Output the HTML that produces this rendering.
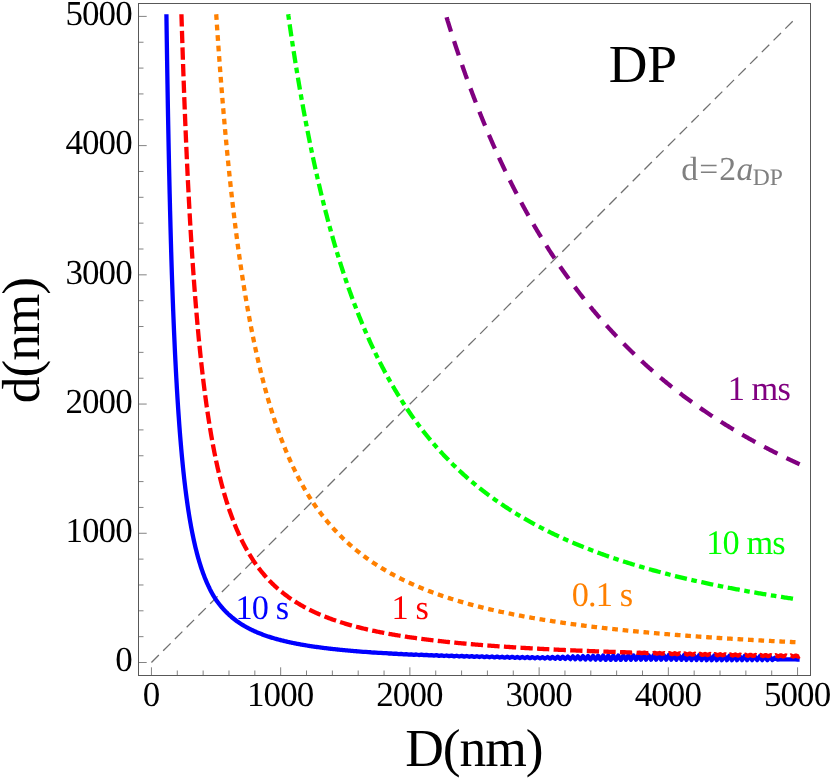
<!DOCTYPE html>
<html><head><meta charset="utf-8"><title>DP</title>
<style>
html,body{margin:0;padding:0;background:#fff;}
body{width:830px;height:779px;overflow:hidden;}
svg{display:block;will-change:transform;}
text{font-family:"Liberation Serif",serif;text-rendering:geometricPrecision;}
</style></head><body>
<svg width="830" height="779" viewBox="0 0 830 779">
<rect width="830" height="779" fill="#fff"/>
<path d="M151.45 662.50 L795.61 18.34" stroke="#707070" stroke-width="1.3" stroke-dasharray="10.5 6.1" fill="none"/>
<path d="M166.41 14.25 L166.43 15.41 L166.47 17.90 L166.51 21.36 L166.57 25.55 L166.64 30.37 L166.72 35.74 L166.81 41.59 L166.91 47.87 L167.01 54.53 L167.12 61.51 L167.23 68.79 L167.36 76.33 L167.49 84.09 L167.62 92.05 L167.76 100.16 L167.91 108.42 L168.06 116.78 L168.22 125.24 L168.39 133.76 L168.55 142.33 L168.73 150.94 L168.91 159.56 L169.09 168.17 L169.28 176.78 L169.47 185.35 L169.67 193.88 L169.88 202.37 L170.08 210.79 L170.30 219.15 L170.51 227.42 L170.73 235.62 L170.96 243.72 L171.19 251.72 L171.42 259.63 L171.66 267.43 L171.90 275.07 L172.15 282.33 L172.40 289.47 L172.65 296.51 L172.91 303.44 L173.17 310.26 L173.44 316.97 L173.71 323.56 L173.98 330.04 L174.26 336.41 L174.54 342.66 L174.82 348.79 L175.11 354.81 L175.40 360.72 L175.70 366.51 L175.99 372.19 L176.30 377.76 L176.60 383.22 L176.91 388.57 L177.23 393.82 L177.54 398.95 L177.86 403.98 L178.18 408.91 L178.51 413.73 L178.84 418.46 L179.17 423.08 L179.51 427.61 L179.85 432.04 L180.19 436.38 L180.54 440.62 L180.89 444.78 L181.24 448.84 L181.60 452.82 L181.95 456.71 L182.32 460.52 L182.68 464.25 L183.05 467.90 L183.42 471.46 L183.80 474.95 L184.17 478.37 L184.55 481.71 L184.94 484.98 L185.32 488.17 L185.71 491.30 L186.11 494.36 L186.50 497.36 L186.90 500.29 L187.30 503.16 L187.70 505.96 L188.11 508.71 L188.52 511.39 L188.93 514.02 L189.35 516.60 L189.77 519.11 L190.19 521.58 L190.61 523.99 L191.04 526.35 L191.47 528.66 L191.90 530.92 L192.34 533.14 L192.78 535.30 L193.22 537.42 L193.66 539.50 L194.11 541.54 L194.56 543.53 L195.01 545.48 L195.46 547.39 L195.92 549.26 L196.38 551.09 L196.84 552.89 L197.31 554.65 L197.77 556.37 L198.24 558.06 L198.72 559.71 L199.19 561.33 L199.67 562.92 L200.15 564.47 L200.63 566.00 L201.12 567.49 L201.61 568.95 L202.10 570.39 L202.59 571.80 L203.09 573.17 L203.59 574.53 L204.09 575.85 L204.59 577.15 L205.10 578.43 L205.61 579.68 L206.12 580.90 L206.63 582.11 L207.15 583.29 L207.67 584.44 L208.19 585.58 L208.71 586.69 L209.24 587.78 L209.76 588.86 L210.30 589.91 L210.83 590.94 L211.36 591.95 L211.90 592.95 L212.44 593.93 L212.99 594.88 L213.53 595.82 L214.08 596.75 L214.63 597.65 L215.18 598.55 L215.73 599.37 L216.29 600.18 L216.85 600.97 L217.41 601.75 L217.98 602.51 L218.54 603.26 L219.11 604.00 L219.68 604.73 L220.26 605.44 L220.83 606.14 L221.41 606.83 L221.99 607.51 L222.57 608.18 L223.16 608.84 L223.74 609.48 L224.33 610.12 L224.92 610.75 L225.52 611.36 L226.11 611.97 L226.71 612.56 L227.31 613.15 L227.91 613.73 L228.52 614.29 L229.13 614.85 L229.73 615.40 L230.35 615.95 L230.96 616.48 L231.58 617.00 L232.19 617.52 L232.81 618.03 L233.44 618.53 L234.06 619.02 L234.69 619.51 L235.32 619.99 L235.95 620.46 L236.58 620.92 L237.22 621.38 L237.85 621.83 L238.49 622.27 L239.13 622.71 L239.78 623.14 L240.42 623.57 L241.07 623.98 L241.72 624.40 L242.38 624.80 L243.03 625.20 L243.69 625.59 L244.35 625.98 L245.01 626.37 L245.67 626.74 L246.33 627.12 L247.00 627.48 L247.67 627.84 L248.34 628.20 L249.01 628.55 L249.69 628.90 L250.37 629.24 L251.05 629.58 L251.73 629.91 L252.41 630.24 L253.10 630.56 L253.79 630.88 L254.48 631.19 L255.17 631.50 L255.86 631.81 L256.56 632.11 L257.25 632.41 L257.95 632.70 L258.66 632.99 L259.36 633.28 L260.07 633.56 L260.77 633.84 L261.48 634.11 L262.19 634.38 L262.91 634.65 L263.62 634.91 L264.34 635.17 L265.06 635.43 L265.78 635.68 L266.51 635.93 L267.23 636.18 L267.96 636.42 L268.69 636.67 L269.42 636.90 L270.16 637.14 L270.89 637.37 L271.63 637.60 L272.37 637.82 L273.11 638.05 L273.85 638.27 L274.60 638.49 L275.34 638.70 L276.09 638.91 L276.84 639.12 L277.60 639.33 L278.35 639.53 L279.11 639.74 L279.87 639.94 L280.63 640.13 L281.39 640.33 L282.15 640.52 L282.92 640.71 L283.69 640.90 L284.46 641.08 L285.23 641.27 L286.00 641.45 L286.78 641.63 L287.56 641.81 L288.34 641.98 L289.12 642.15 L289.90 642.32 L290.69 642.49 L291.47 642.66 L292.26 642.83 L293.05 642.99 L293.84 643.15 L294.64 643.31 L295.43 643.47 L296.23 643.62 L297.03 643.78 L297.83 643.93 L298.64 644.08 L299.44 644.23 L300.25 644.38 L301.06 644.52 L301.87 644.66 L302.68 644.81 L303.50 644.95 L304.31 645.09 L305.13 645.22 L305.95 645.36 L306.77 645.50 L307.60 645.63 L308.42 645.76 L309.25 645.89 L310.08 646.02 L310.91 646.15 L311.74 646.27 L312.58 646.40 L313.41 646.52 L314.25 646.64 L315.09 646.76 L315.93 646.88 L316.77 647.00 L317.62 647.12 L318.47 647.23 L319.31 647.35 L320.16 647.46 L321.02 647.58 L321.87 647.69 L322.73 647.80 L323.58 647.90 L324.44 648.01 L325.30 648.12 L326.17 648.22 L327.03 648.33 L327.90 648.43 L328.77 648.53 L329.63 648.64 L330.51 648.74 L331.38 648.83 L332.25 648.93 L333.13 649.03 L334.01 649.13 L334.89 649.22 L335.77 649.32 L336.65 649.41 L337.54 649.50 L338.43 649.59 L339.32 649.68 L340.21 649.77 L341.10 649.86 L341.99 649.95 L342.89 650.04 L343.78 650.12 L344.68 650.21 L345.58 650.30 L346.49 650.38 L347.39 650.46 L348.30 650.55 L349.20 650.63 L350.11 650.71 L351.02 650.79 L351.94 650.87 L352.85 650.95 L353.77 651.03 L354.68 651.10 L355.60 651.18 L356.52 651.26 L357.45 651.33 L358.20 651.39 L360.73 651.58 L363.25 651.79 L365.78 651.93 L368.30 652.17 L370.83 652.27 L373.35 652.52 L375.88 652.58 L378.40 652.86 L380.93 652.87 L383.45 653.18 L385.98 653.15 L388.50 653.48 L391.03 653.41 L393.55 653.77 L396.08 653.65 L398.60 654.04 L401.13 653.89 L403.65 654.30 L406.18 654.11 L408.70 654.55 L411.23 654.31 L413.75 654.78 L416.28 654.51 L418.80 655.01 L421.33 654.70 L423.85 655.22 L426.38 654.87 L428.90 655.43 L431.43 655.04 L433.95 655.62 L436.48 655.20 L439.00 655.81 L441.53 655.35 L444.05 655.99 L446.58 655.49 L449.10 656.16 L451.63 655.63 L454.15 656.33 L456.68 655.75 L459.20 656.49 L461.73 655.88 L464.25 656.64 L466.78 655.99 L469.30 656.79 L471.83 656.10 L474.35 656.93 L476.88 656.21 L479.40 657.06 L481.93 656.31 L484.45 657.20 L486.98 656.41 L489.50 657.32 L492.03 656.50 L494.55 657.44 L497.08 656.58 L499.60 657.56 L502.13 656.67 L504.65 657.68 L507.18 656.74 L509.70 657.79 L512.23 656.82 L514.75 657.89 L517.28 656.89 L519.80 658.00 L522.33 656.96 L524.85 658.10 L527.38 657.02 L529.90 658.19 L532.43 657.09 L534.95 658.29 L537.48 657.14 L540.00 658.39 L542.53 657.09 L545.05 658.51 L547.58 656.98 L550.10 658.63 L552.63 656.87 L555.15 658.76 L557.68 656.75 L560.20 658.87 L562.73 656.64 L565.25 658.99 L567.78 656.52 L570.30 659.10 L572.83 656.39 L575.35 659.21 L577.88 656.27 L580.40 659.32 L582.93 656.14 L585.45 659.43 L587.98 656.02 L590.50 659.54 L593.03 655.89 L595.55 659.64 L598.08 655.76 L600.60 659.74 L603.13 655.62 L605.65 659.81 L608.18 655.58 L610.70 659.80 L613.23 655.54 L615.75 659.80 L618.28 655.51 L620.80 659.79 L623.33 655.47 L625.85 659.78 L628.38 655.44 L630.90 659.77 L633.43 655.40 L635.95 659.76 L638.48 655.36 L641.00 659.75 L643.53 655.31 L646.05 659.74 L648.58 655.27 L651.10 659.72 L653.63 655.23 L656.15 659.71 L658.68 655.18 L661.20 659.69 L663.73 655.14 L666.25 659.68 L668.78 655.10 L671.30 659.71 L673.83 655.14 L676.35 659.78 L678.88 655.18 L681.40 659.85 L683.93 655.22 L686.45 659.91 L688.98 655.25 L691.50 659.98 L694.03 655.29 L696.55 660.05 L699.08 655.33 L701.60 660.11 L704.13 655.36 L706.65 660.18 L709.18 655.42 L711.70 660.18 L714.23 655.52 L716.75 660.18 L719.28 655.61 L721.80 660.19 L724.33 655.71 L726.85 660.18 L729.38 655.80 L731.90 660.18 L734.43 655.89 L736.95 660.18 L739.48 655.98 L742.00 660.18 L744.53 656.07 L747.05 660.18 L749.58 656.16 L752.10 660.17 L754.63 656.25 L757.15 660.17 L759.68 656.34 L762.20 660.16 L764.73 656.43 L767.25 660.16 L769.78 656.52 L772.30 660.10 L774.83 657.70 L777.35 659.60 L779.88 659.40 L782.40 659.41 L784.93 659.42 L787.45 659.43 L789.98 659.44 L792.50 659.46 L795.03 659.47 L797.55 659.48 L799.62 659.49" stroke="#0000ff" stroke-width="4.3" fill="none" stroke-linejoin="round"/>
<path d="M181.44 14.25 L181.46 14.82 L181.50 15.98 L181.54 17.54 L181.60 19.45 L181.67 21.66 L181.75 24.14 L181.83 26.86 L181.93 29.80 L182.03 32.95 L182.13 36.28 L182.25 39.79 L182.37 43.47 L182.49 47.29 L182.63 51.25 L182.76 55.34 L182.91 59.54 L183.06 63.86 L183.21 68.28 L183.37 72.79 L183.54 77.39 L183.71 82.07 L183.88 86.82 L184.06 91.63 L184.24 96.50 L184.43 101.42 L184.63 106.39 L184.82 111.40 L185.03 116.45 L185.23 121.52 L185.45 126.63 L185.66 131.75 L185.88 136.89 L186.11 142.04 L186.33 147.21 L186.57 152.38 L186.80 157.55 L187.04 162.71 L187.29 167.88 L187.53 173.03 L187.79 178.18 L188.04 183.31 L188.30 188.43 L188.56 193.52 L188.83 198.60 L189.10 203.66 L189.37 208.69 L189.65 213.69 L189.93 218.67 L190.22 223.61 L190.51 228.53 L190.80 233.41 L191.09 238.25 L191.39 243.06 L191.69 247.84 L192.00 252.58 L192.31 257.28 L192.62 261.94 L192.94 266.55 L193.26 271.13 L193.58 275.67 L193.90 280.16 L194.23 284.62 L194.56 289.02 L194.90 293.39 L195.23 297.71 L195.58 301.99 L195.92 306.22 L196.27 310.41 L196.62 314.55 L196.97 318.64 L197.33 322.70 L197.69 326.70 L198.05 330.67 L198.41 334.58 L198.78 338.45 L199.15 342.28 L199.53 346.06 L199.91 349.80 L200.29 353.49 L200.67 357.14 L201.06 360.74 L201.44 364.30 L201.84 367.82 L202.23 371.29 L202.63 374.72 L203.03 378.11 L203.43 381.45 L203.84 384.75 L204.25 388.01 L204.66 391.23 L205.07 394.41 L205.49 397.55 L205.91 400.64 L206.33 403.70 L206.75 406.72 L207.18 409.69 L207.61 412.63 L208.05 415.53 L208.48 418.39 L208.92 421.22 L209.36 424.00 L209.80 426.75 L210.25 429.47 L210.70 432.14 L211.15 434.79 L211.60 437.39 L212.06 439.97 L212.52 442.50 L212.98 445.01 L213.45 447.48 L213.91 449.92 L214.38 452.32 L214.85 454.69 L215.33 457.03 L215.80 459.34 L216.28 461.61 L216.77 463.83 L217.25 466.02 L217.74 468.18 L218.23 470.31 L218.72 472.41 L219.21 474.49 L219.71 476.53 L220.21 478.55 L220.71 480.55 L221.21 482.52 L221.72 484.46 L222.23 486.37 L222.74 488.26 L223.25 490.13 L223.77 491.97 L224.29 493.79 L224.81 495.58 L225.33 497.35 L225.85 499.09 L226.38 500.81 L226.91 502.51 L227.44 504.19 L227.98 505.85 L228.51 507.48 L229.05 509.09 L229.60 510.69 L230.14 512.26 L230.69 513.81 L231.23 515.34 L231.78 516.85 L232.34 518.34 L232.89 519.81 L233.45 521.26 L234.01 522.69 L234.57 524.11 L235.13 525.51 L235.70 526.89 L236.27 528.25 L236.84 529.59 L237.41 530.92 L237.99 532.23 L238.57 533.52 L239.15 534.80 L239.73 536.06 L240.31 537.30 L240.90 538.53 L241.49 539.74 L242.08 540.94 L242.67 542.12 L243.26 543.29 L243.86 544.44 L244.46 545.58 L245.06 546.71 L245.66 547.82 L246.27 548.91 L246.88 550.00 L247.49 551.07 L248.10 552.12 L248.71 553.17 L249.33 554.20 L249.95 555.22 L250.57 556.22 L251.19 557.21 L251.81 558.20 L252.44 559.16 L253.07 560.12 L253.70 561.07 L254.33 562.00 L254.97 562.93 L255.60 563.84 L256.24 564.74 L256.88 565.63 L257.53 566.51 L258.17 567.38 L258.82 568.24 L259.47 569.08 L260.12 569.92 L260.77 570.75 L261.43 571.57 L262.09 572.38 L262.75 573.18 L263.41 573.97 L264.07 574.75 L264.73 575.52 L265.40 576.29 L266.07 577.04 L266.74 577.78 L267.42 578.52 L268.09 579.25 L268.77 579.97 L269.45 580.68 L270.13 581.38 L270.81 582.08 L271.50 582.77 L272.18 583.45 L272.87 584.12 L273.56 584.78 L274.26 585.44 L274.95 586.09 L275.65 586.73 L276.35 587.37 L277.05 587.99 L277.75 588.62 L278.46 589.23 L279.16 589.84 L279.87 590.44 L280.58 591.03 L281.29 591.62 L282.01 592.20 L282.72 592.77 L283.44 593.34 L284.16 593.90 L284.88 594.46 L285.61 595.01 L286.33 595.55 L287.06 596.09 L287.79 596.62 L288.52 597.15 L289.25 597.67 L289.99 598.19 L290.73 598.70 L291.46 599.20 L292.21 599.70 L292.95 600.19 L293.69 600.68 L294.44 601.16 L295.19 601.64 L295.94 602.12 L296.69 602.58 L297.44 603.05 L298.20 603.51 L298.95 603.96 L299.71 604.41 L300.47 604.85 L301.24 605.29 L302.00 605.73 L302.77 606.16 L303.54 606.58 L304.31 607.01 L305.08 607.42 L305.85 607.84 L306.63 608.25 L307.40 608.65 L308.18 609.05 L308.96 609.45 L309.75 609.84 L310.53 610.23 L311.32 610.62 L312.10 611.00 L312.89 611.38 L313.69 611.75 L314.48 612.12 L315.27 612.49 L316.07 612.85 L316.87 613.21 L317.67 613.56 L318.47 613.91 L319.28 614.26 L320.08 614.61 L320.89 614.95 L321.70 615.29 L322.51 615.62 L323.32 615.96 L324.14 616.29 L324.95 616.61 L325.77 616.93 L326.59 617.25 L327.41 617.57 L328.24 617.88 L329.06 618.19 L329.89 618.50 L330.72 618.81 L331.55 619.11 L332.38 619.41 L333.21 619.70 L334.05 620.00 L334.88 620.29 L335.72 620.57 L336.56 620.86 L337.41 621.14 L338.25 621.42 L339.10 621.70 L339.94 621.97 L340.79 622.25 L341.64 622.52 L342.49 622.78 L343.35 623.05 L344.20 623.31 L345.06 623.57 L345.92 623.83 L346.78 624.08 L347.64 624.34 L348.51 624.59 L349.37 624.84 L350.24 625.08 L351.11 625.33 L351.98 625.57 L352.86 625.81 L353.73 626.05 L354.61 626.28 L355.48 626.52 L356.36 626.75 L357.24 626.98 L358.13 627.20 L359.01 627.43 L359.90 627.65 L360.78 627.87 L361.67 628.09 L362.56 628.31 L363.46 628.53 L364.35 628.74 L365.25 628.95 L366.14 629.16 L367.04 629.37 L367.94 629.58 L368.85 629.78 L369.75 629.98 L370.66 630.19 L371.56 630.39 L372.47 630.58 L373.38 630.78 L374.29 630.97 L375.21 631.17 L376.12 631.36 L377.04 631.55 L377.96 631.74 L378.88 631.92 L379.80 632.11 L380.72 632.29 L381.65 632.47 L382.58 632.65 L383.50 632.83 L384.43 633.01 L385.36 633.19 L386.30 633.36 L387.23 633.53 L388.17 633.70 L389.11 633.88 L390.05 634.04 L390.99 634.21 L391.93 634.38 L392.87 634.54 L393.82 634.71 L394.77 634.87 L395.72 635.03 L396.67 635.19 L397.62 635.35 L398.57 635.50 L399.53 635.66 L400.48 635.81 L401.44 635.97 L402.40 636.12 L403.36 636.27 L404.33 636.42 L405.29 636.57 L406.26 636.72 L407.22 636.86 L408.19 637.01 L409.16 637.15 L410.14 637.29 L411.11 637.44 L412.09 637.58 L413.06 637.72 L414.04 637.85 L415.02 637.99 L416.00 638.13 L416.99 638.26 L417.97 638.40 L418.96 638.53 L419.95 638.66 L420.94 638.79 L421.93 638.92 L422.92 639.05 L423.91 639.18 L424.91 639.31 L425.91 639.43 L426.90 639.56 L427.90 639.68 L428.91 639.81 L429.91 639.93 L430.91 640.05 L431.92 640.17 L432.93 640.29 L433.94 640.41 L434.95 640.53 L435.96 640.65 L436.97 640.76 L437.99 640.88 L439.01 640.99 L440.02 641.11 L441.04 641.22 L442.06 641.33 L443.09 641.44 L444.11 641.55 L445.14 641.66 L446.16 641.77 L447.19 641.88 L448.22 641.99 L449.26 642.09 L450.29 642.20 L451.32 642.30 L452.36 642.41 L453.40 642.51 L454.44 642.61 L455.48 642.72 L456.52 642.82 L457.56 642.92 L458.61 643.02 L459.66 643.12 L460.70 643.22 L461.75 643.31 L462.80 643.41 L463.86 643.51 L464.91 643.60 L465.97 643.70 L467.02 643.79 L468.08 643.89 L469.14 643.98 L470.20 644.07 L471.27 644.16 L472.33 644.25 L473.40 644.35 L474.46 644.44 L475.53 644.52 L476.60 644.61 L477.67 644.70 L478.75 644.79 L479.82 644.88 L480.90 644.96 L481.97 645.05 L483.05 645.13 L484.13 645.22 L485.22 645.30 L486.30 645.38 L487.38 645.47 L488.47 645.55 L489.56 645.63 L490.65 645.71 L491.74 645.79 L492.83 645.87 L493.92 645.95 L495.02 646.03 L496.11 646.11 L497.21 646.19 L498.31 646.27 L499.41 646.34 L500.51 646.42 L501.61 646.49 L502.72 646.57 L503.83 646.65 L504.93 646.72 L506.04 646.79 L507.15 646.87 L508.26 646.94 L509.38 647.01 L510.49 647.08 L511.61 647.16 L512.73 647.23 L513.85 647.30 L514.97 647.37 L516.09 647.44 L517.21 647.51 L518.34 647.58 L519.46 647.64 L520.59 647.71 L521.72 647.78 L522.85 647.85 L523.98 647.91 L525.11 647.98 L526.25 648.05 L527.38 648.11 L528.52 648.18 L529.66 648.24 L530.80 648.31 L531.94 648.37 L533.08 648.43 L534.23 648.50 L535.37 648.56 L536.52 648.62 L537.67 648.68 L538.82 648.74 L539.97 648.81 L541.12 648.87 L542.28 648.93 L543.43 648.99 L544.59 649.05 L545.75 649.11 L546.91 649.16 L548.07 649.22 L549.23 649.28 L550.39 649.34 L551.56 649.40 L552.72 649.45 L553.89 649.51 L555.06 649.57 L556.23 649.62 L557.40 649.68 L558.58 649.73 L559.75 649.79 L560.93 649.84 L562.10 649.90 L563.28 649.95 L564.46 650.01 L565.65 650.06 L566.83 650.11 L568.01 650.16 L569.20 650.22 L570.38 650.27 L571.57 650.32 L572.76 650.37 L573.95 650.42 L575.15 650.47 L576.34 650.53 L577.53 650.58 L578.73 650.63 L579.93 650.68 L581.13 650.73 L582.33 650.77 L583.53 650.82 L584.73 650.87 L585.94 650.92 L587.14 650.97 L588.35 651.02 L589.56 651.06 L590.77 651.11 L591.98 651.16 L593.19 651.20 L594.41 651.25 L595.62 651.30 L596.84 651.34 L598.06 651.39 L599.28 651.43 L600.50 651.48 L601.72 651.52 L602.94 651.57 L604.17 651.61 L605.39 651.66 L606.62 651.70 L607.85 651.74 L609.08 651.79 L610.31 651.83 L611.54 651.87 L612.78 651.92 L614.01 651.96 L615.25 652.00 L616.49 652.04 L616.64 652.05 L619.17 652.11 L621.69 652.26 L624.22 652.23 L626.74 652.46 L629.27 652.35 L631.79 652.67 L634.32 652.47 L636.84 652.87 L639.37 652.58 L641.89 653.06 L644.42 652.68 L646.94 653.25 L649.47 652.78 L651.99 653.44 L654.52 652.88 L657.04 653.62 L659.57 652.98 L662.09 653.80 L664.62 653.07 L667.14 653.97 L669.67 653.16 L672.19 654.15 L674.72 653.24 L677.24 654.32 L679.77 653.33 L682.29 654.48 L684.82 653.44 L687.34 654.60 L689.87 653.56 L692.39 654.71 L694.92 653.67 L697.44 654.83 L699.97 653.79 L702.49 654.94 L705.02 653.90 L707.54 655.05 L710.07 654.01 L712.59 655.16 L715.12 654.11 L717.64 655.27 L720.17 654.22 L722.69 655.37 L725.22 654.32 L727.74 655.47 L730.27 654.42 L732.79 655.57 L735.32 654.52 L737.84 655.66 L740.37 654.61 L742.89 655.76 L745.42 654.71 L747.94 655.85 L750.47 654.80 L752.99 655.94 L755.52 654.89 L758.04 656.03 L760.57 654.97 L763.09 656.12 L765.62 655.06 L768.14 656.20 L770.67 655.14 L773.19 656.29 L775.72 655.23 L778.24 656.37 L780.77 655.31 L783.29 656.45 L785.82 655.39 L788.34 656.53 L790.87 655.46 L793.39 656.60 L795.92 655.54 L798.44 656.68 L799.62 656.14" stroke="#ff0000" stroke-width="4.3" fill="none" stroke-linejoin="round" stroke-dasharray="12.3 4.3"/>
<path d="M216.22 14.25 L216.24 14.50 L216.27 15.01 L216.31 15.70 L216.37 16.54 L216.43 17.51 L216.51 18.61 L216.59 19.82 L216.67 21.13 L216.77 22.54 L216.87 24.04 L216.97 25.63 L217.09 27.30 L217.20 29.05 L217.33 30.87 L217.46 32.77 L217.59 34.73 L217.73 36.75 L217.88 38.84 L218.03 40.99 L218.18 43.19 L218.34 45.44 L218.50 47.75 L218.67 50.10 L218.84 52.51 L219.02 54.95 L219.20 57.44 L219.39 59.97 L219.58 62.54 L219.77 65.15 L219.97 67.79 L220.17 70.47 L220.38 73.17 L220.59 75.91 L220.80 78.67 L221.02 81.47 L221.24 84.29 L221.47 87.13 L221.69 90.00 L221.93 92.88 L222.16 95.79 L222.40 98.72 L222.65 101.66 L222.89 104.62 L223.14 107.60 L223.40 110.59 L223.65 113.59 L223.91 116.61 L224.18 119.63 L224.44 122.67 L224.71 125.71 L224.99 128.77 L225.26 131.83 L225.54 134.89 L225.83 137.97 L226.11 141.04 L226.40 144.12 L226.69 147.20 L226.99 150.29 L227.29 153.37 L227.59 156.46 L227.89 159.54 L228.20 162.63 L228.51 165.71 L228.83 168.79 L229.14 171.87 L229.46 174.94 L229.79 178.01 L230.11 181.08 L230.44 184.14 L230.77 187.20 L231.10 190.24 L231.44 193.29 L231.78 196.32 L232.12 199.35 L232.47 202.37 L232.82 205.38 L233.17 208.38 L233.52 211.37 L233.88 214.35 L234.24 217.33 L234.60 220.29 L234.96 223.24 L235.33 226.18 L235.70 229.11 L236.07 232.02 L236.45 234.93 L236.82 237.82 L237.20 240.70 L237.59 243.57 L237.97 246.42 L238.36 249.27 L238.75 252.09 L239.14 254.91 L239.54 257.71 L239.94 260.49 L240.34 263.27 L240.74 266.02 L241.15 268.77 L241.56 271.50 L241.97 274.21 L242.38 276.91 L242.80 279.59 L243.21 282.26 L243.63 284.91 L244.06 287.55 L244.48 290.18 L244.91 292.78 L245.34 295.37 L245.77 297.95 L246.21 300.51 L246.65 303.05 L247.09 305.58 L247.53 308.09 L247.97 310.59 L248.42 313.07 L248.87 315.53 L249.32 317.98 L249.77 320.42 L250.23 322.83 L250.69 325.23 L251.15 327.62 L251.61 329.98 L252.08 332.34 L252.54 334.67 L253.01 336.99 L253.49 339.30 L253.96 341.58 L254.44 343.86 L254.92 346.11 L255.40 348.35 L255.88 350.57 L256.37 352.78 L256.85 354.98 L257.34 357.15 L257.84 359.31 L258.33 361.46 L258.83 363.59 L259.32 365.70 L259.83 367.80 L260.33 369.88 L260.83 371.95 L261.34 374.00 L261.85 376.04 L262.36 378.06 L262.88 380.07 L263.39 382.06 L263.91 384.03 L264.43 385.99 L264.95 387.94 L265.48 389.87 L266.00 391.79 L266.53 393.69 L267.06 395.58 L267.59 397.45 L268.13 399.31 L268.67 401.15 L269.21 402.98 L269.75 404.80 L270.29 406.60 L270.83 408.39 L271.38 410.16 L271.93 411.92 L272.48 413.67 L273.04 415.40 L273.59 417.12 L274.15 418.83 L274.71 420.52 L275.27 422.20 L275.83 423.86 L276.40 425.51 L276.97 427.15 L277.53 428.78 L278.11 430.39 L278.68 431.99 L279.25 433.58 L279.83 435.15 L280.41 436.72 L280.99 438.27 L281.58 439.80 L282.16 441.33 L282.75 442.84 L283.34 444.34 L283.93 445.83 L284.52 447.31 L285.12 448.78 L285.71 450.23 L286.31 451.67 L286.91 453.10 L287.51 454.52 L288.12 455.93 L288.73 457.32 L289.33 458.71 L289.94 460.08 L290.56 461.45 L291.17 462.80 L291.79 464.14 L292.40 465.47 L293.02 466.79 L293.65 468.10 L294.27 469.40 L294.89 470.69 L295.52 471.96 L296.15 473.23 L296.78 474.49 L297.41 475.74 L298.05 476.97 L298.69 478.20 L299.32 479.42 L299.96 480.62 L300.61 481.82 L301.25 483.01 L301.90 484.19 L302.54 485.36 L303.19 486.52 L303.84 487.67 L304.50 488.81 L305.15 489.94 L305.81 491.07 L306.47 492.18 L307.13 493.29 L307.79 494.38 L308.45 495.47 L309.12 496.55 L309.79 497.62 L310.45 498.68 L311.13 499.74 L311.80 500.78 L312.47 501.81 L313.15 502.81 L313.83 503.80 L314.51 504.79 L315.19 505.76 L315.87 506.73 L316.56 507.69 L317.24 508.65 L317.93 509.59 L318.62 510.53 L319.32 511.46 L320.01 512.39 L320.71 513.31 L321.40 514.22 L322.10 515.12 L322.80 516.02 L323.51 516.91 L324.21 517.79 L324.92 518.67 L325.62 519.53 L326.33 520.40 L327.04 521.25 L327.76 522.10 L328.47 522.95 L329.19 523.78 L329.91 524.61 L330.63 525.44 L331.35 526.25 L332.07 527.06 L332.80 527.87 L333.52 528.67 L334.25 529.46 L334.98 530.25 L335.71 531.03 L336.45 531.80 L337.18 532.57 L337.92 533.34 L338.66 534.10 L339.40 534.85 L340.14 535.59 L340.88 536.33 L341.63 537.07 L342.37 537.80 L343.12 538.52 L343.87 539.24 L344.62 539.95 L345.38 540.66 L346.13 541.37 L346.89 542.06 L347.65 542.76 L348.41 543.44 L349.17 544.12 L349.93 544.80 L350.70 545.47 L351.46 546.14 L352.23 546.80 L353.00 547.46 L353.77 548.11 L354.55 548.76 L355.32 549.40 L356.10 550.04 L356.87 550.67 L357.65 551.30 L358.44 551.93 L359.22 552.55 L360.00 553.16 L360.79 553.77 L361.58 554.38 L362.37 554.98 L363.16 555.58 L363.95 556.17 L364.74 556.76 L365.54 557.34 L366.34 557.92 L367.13 558.50 L367.93 559.07 L368.74 559.64 L369.54 560.20 L370.34 560.76 L371.15 561.32 L371.96 561.87 L372.77 562.42 L373.58 562.96 L374.39 563.50 L375.21 564.04 L376.02 564.57 L376.84 565.10 L377.66 565.62 L378.48 566.14 L379.30 566.66 L380.13 567.17 L380.95 567.68 L381.78 568.19 L382.61 568.69 L383.44 569.19 L384.27 569.69 L385.10 570.18 L385.94 570.67 L386.78 571.15 L387.61 571.64 L388.45 572.11 L389.29 572.59 L390.14 573.06 L390.98 573.53 L391.83 574.00 L392.67 574.46 L393.52 574.92 L394.37 575.37 L395.22 575.83 L396.08 576.28 L396.93 576.72 L397.79 577.17 L398.65 577.61 L399.50 578.04 L400.37 578.48 L401.23 578.91 L402.09 579.34 L402.96 579.76 L403.82 580.19 L404.69 580.61 L405.56 581.02 L406.43 581.44 L407.31 581.85 L408.18 582.26 L409.06 582.66 L409.93 583.06 L410.81 583.47 L411.69 583.86 L412.57 584.26 L413.46 584.65 L414.34 585.04 L415.23 585.43 L416.12 585.81 L417.00 586.19 L417.90 586.57 L418.79 586.95 L419.68 587.32 L420.58 587.70 L421.47 588.07 L422.37 588.43 L423.27 588.80 L424.17 589.16 L425.07 589.52 L425.98 589.88 L426.88 590.23 L427.79 590.58 L428.70 590.93 L429.61 591.28 L430.52 591.63 L431.43 591.97 L432.35 592.31 L433.26 592.65 L434.18 592.99 L435.10 593.32 L436.02 593.66 L436.94 593.99 L437.86 594.32 L438.78 594.64 L439.71 594.97 L440.64 595.29 L441.57 595.61 L442.50 595.93 L443.43 596.24 L444.36 596.56 L445.29 596.87 L446.23 597.18 L447.17 597.49 L448.11 597.79 L449.05 598.10 L449.99 598.40 L450.93 598.70 L451.87 599.00 L452.82 599.29 L453.77 599.59 L454.72 599.88 L455.67 600.17 L456.62 600.46 L457.57 600.75 L458.52 601.03 L459.48 601.32 L460.44 601.60 L461.39 601.88 L462.35 602.16 L463.32 602.43 L464.28 602.71 L465.24 602.98 L466.21 603.25 L467.17 603.52 L468.14 603.79 L469.11 604.06 L470.08 604.32 L471.06 604.59 L472.03 604.85 L473.01 605.11 L473.98 605.37 L474.96 605.62 L475.94 605.88 L476.92 606.13 L477.90 606.38 L478.89 606.64 L479.87 606.88 L480.86 607.13 L481.84 607.38 L482.83 607.62 L483.82 607.87 L484.82 608.11 L485.81 608.35 L486.80 608.59 L487.80 608.82 L488.80 609.06 L489.80 609.30 L490.80 609.53 L491.80 609.76 L492.80 609.99 L493.80 610.22 L494.81 610.45 L495.82 610.67 L496.82 610.90 L497.83 611.12 L498.84 611.35 L499.86 611.57 L500.87 611.79 L501.89 612.01 L502.90 612.22 L503.92 612.44 L504.94 612.65 L505.96 612.87 L506.98 613.08 L508.00 613.29 L509.03 613.50 L510.05 613.71 L511.08 613.92 L512.11 614.12 L513.14 614.33 L514.17 614.53 L515.20 614.73 L516.24 614.93 L517.27 615.13 L518.31 615.33 L519.35 615.53 L520.39 615.73 L521.43 615.92 L522.47 616.12 L523.51 616.31 L524.56 616.50 L525.60 616.70 L526.65 616.89 L527.70 617.07 L528.75 617.26 L529.80 617.45 L530.85 617.64 L531.91 617.82 L532.96 618.00 L534.02 618.19 L535.08 618.37 L536.13 618.55 L537.19 618.73 L538.26 618.91 L539.32 619.09 L540.38 619.26 L541.45 619.44 L542.52 619.62 L543.58 619.79 L544.65 619.97 L545.73 620.14 L546.80 620.31 L547.87 620.48 L548.95 620.65 L550.02 620.82 L551.10 620.99 L552.18 621.16 L553.26 621.33 L554.34 621.49 L555.42 621.66 L556.51 621.82 L557.59 621.98 L558.68 622.14 L559.77 622.31 L560.85 622.47 L561.95 622.63 L563.04 622.78 L564.13 622.94 L565.22 623.10 L566.32 623.25 L567.42 623.41 L568.51 623.56 L569.61 623.72 L570.71 623.87 L571.82 624.02 L572.92 624.17 L574.02 624.32 L575.13 624.47 L576.24 624.62 L577.35 624.77 L578.46 624.92 L579.57 625.06 L580.68 625.21 L581.79 625.35 L582.91 625.50 L584.02 625.64 L585.14 625.78 L586.26 625.92 L587.38 626.06 L588.50 626.20 L589.62 626.34 L590.75 626.48 L591.87 626.62 L593.00 626.76 L594.12 626.89 L595.25 627.03 L596.38 627.16 L597.51 627.30 L598.65 627.43 L599.78 627.57 L600.92 627.70 L602.05 627.83 L603.19 627.96 L604.33 628.09 L605.47 628.22 L606.61 628.35 L607.75 628.48 L608.90 628.60 L610.04 628.73 L611.19 628.86 L612.33 628.98 L613.48 629.11 L614.63 629.23 L615.78 629.36 L616.94 629.48 L618.09 629.60 L619.25 629.72 L620.40 629.84 L621.56 629.96 L622.72 630.08 L623.88 630.20 L625.04 630.32 L626.20 630.44 L627.37 630.56 L628.53 630.67 L629.70 630.79 L630.86 630.91 L632.03 631.02 L633.20 631.14 L634.37 631.25 L635.55 631.36 L636.72 631.48 L637.89 631.59 L639.07 631.70 L640.25 631.81 L641.43 631.92 L642.61 632.03 L643.79 632.14 L644.97 632.25 L646.15 632.36 L647.34 632.47 L648.52 632.58 L649.71 632.68 L650.90 632.79 L652.09 632.89 L653.28 633.00 L654.47 633.10 L655.66 633.21 L656.86 633.31 L658.05 633.42 L659.25 633.52 L660.45 633.62 L661.65 633.72 L662.85 633.82 L664.05 633.92 L665.25 634.03 L666.46 634.12 L667.66 634.22 L668.87 634.32 L670.08 634.42 L671.28 634.52 L672.49 634.62 L673.71 634.71 L674.92 634.81 L676.13 634.91 L677.35 635.00 L678.56 635.10 L679.78 635.19 L681.00 635.29 L682.22 635.38 L683.44 635.47 L684.66 635.57 L685.88 635.66 L687.11 635.75 L688.33 635.84 L689.56 635.93 L690.79 636.02 L692.02 636.11 L693.25 636.20 L694.48 636.29 L695.71 636.38 L696.95 636.47 L698.18 636.56 L699.42 636.65 L700.66 636.73 L701.90 636.82 L703.14 636.91 L704.38 636.99 L705.62 637.08 L706.86 637.16 L708.11 637.25 L709.35 637.33 L710.60 637.42 L711.85 637.50 L713.10 637.59 L714.35 637.67 L715.60 637.75 L716.85 637.83 L718.11 637.91 L719.36 638.00 L720.62 638.08 L721.88 638.16 L723.14 638.24 L724.40 638.32 L725.66 638.40 L726.92 638.48 L728.18 638.56 L729.45 638.63 L730.71 638.71 L731.98 638.79 L733.25 638.87 L734.52 638.95 L735.79 639.02 L737.06 639.10 L738.33 639.17 L739.61 639.25 L740.88 639.33 L742.16 639.40 L743.44 639.48 L744.71 639.55 L745.99 639.62 L747.28 639.70 L748.56 639.77 L749.84 639.84 L751.13 639.92 L752.41 639.99 L753.70 640.06 L754.99 640.13 L756.28 640.20 L757.57 640.28 L758.86 640.35 L760.15 640.42 L761.44 640.49 L762.74 640.56 L764.03 640.63 L765.33 640.70 L766.63 640.77 L767.93 640.83 L769.23 640.90 L770.53 640.97 L771.83 641.04 L773.14 641.11 L774.44 641.17 L775.75 641.24 L777.06 641.31 L778.37 641.37 L779.68 641.44 L780.99 641.50 L782.30 641.57 L783.61 641.64 L784.93 641.70 L786.24 641.76 L787.56 641.83 L788.88 641.89 L790.20 641.96 L791.52 642.02 L792.84 642.08 L794.16 642.15 L795.48 642.21" stroke="#ff8000" stroke-width="4.3" fill="none" stroke-linejoin="round" stroke-dasharray="5.7 4.777"/>
<path d="M288.20 14.25 L288.21 14.36 L288.24 14.56 L288.28 14.84 L288.33 15.18 L288.38 15.58 L288.45 16.03 L288.52 16.52 L288.59 17.06 L288.67 17.63 L288.76 18.25 L288.86 18.91 L288.95 19.60 L289.06 20.32 L289.17 21.08 L289.28 21.87 L289.40 22.69 L289.52 23.53 L289.64 24.41 L289.78 25.32 L289.91 26.25 L290.05 27.20 L290.19 28.19 L290.34 29.19 L290.49 30.23 L290.65 31.28 L290.80 32.36 L290.97 33.46 L291.13 34.58 L291.30 35.72 L291.47 36.88 L291.65 38.06 L291.83 39.26 L292.01 40.48 L292.20 41.72 L292.39 42.97 L292.58 44.24 L292.78 45.53 L292.98 46.84 L293.18 48.16 L293.39 49.50 L293.60 50.85 L293.81 52.22 L294.03 53.60 L294.25 55.00 L294.47 56.41 L294.69 57.83 L294.92 59.27 L295.15 60.72 L295.38 62.18 L295.62 63.66 L295.86 65.14 L296.10 66.64 L296.34 68.15 L296.59 69.66 L296.84 71.19 L297.09 72.73 L297.35 74.28 L297.61 75.84 L297.87 77.41 L298.13 78.98 L298.40 80.57 L298.67 82.16 L298.94 83.76 L299.21 85.37 L299.49 86.99 L299.77 88.61 L300.05 90.25 L300.33 91.88 L300.62 93.53 L300.91 95.18 L301.20 96.84 L301.50 98.50 L301.79 100.17 L302.09 101.85 L302.39 103.53 L302.70 105.21 L303.00 106.90 L303.31 108.59 L303.62 110.29 L303.94 112.00 L304.25 113.70 L304.57 115.41 L304.89 117.13 L305.22 118.84 L305.54 120.57 L305.87 122.29 L306.20 124.02 L306.53 125.75 L306.87 127.48 L307.20 129.21 L307.54 130.95 L307.88 132.69 L308.23 134.43 L308.57 136.17 L308.92 137.91 L309.27 139.66 L309.62 141.40 L309.98 143.15 L310.33 144.90 L310.69 146.65 L311.05 148.40 L311.42 150.14 L311.78 151.89 L312.15 153.65 L312.52 155.40 L312.89 157.15 L313.26 158.90 L313.64 160.65 L314.02 162.39 L314.40 164.14 L314.78 165.89 L315.17 167.64 L315.55 169.38 L315.94 171.13 L316.33 172.87 L316.72 174.62 L317.12 176.36 L317.51 178.10 L317.91 179.84 L318.31 181.57 L318.72 183.31 L319.12 185.04 L319.53 186.77 L319.93 188.50 L320.35 190.23 L320.76 191.95 L321.17 193.68 L321.59 195.40 L322.01 197.11 L322.43 198.83 L322.85 200.54 L323.27 202.25 L323.70 203.96 L324.13 205.66 L324.56 207.36 L324.99 209.06 L325.42 210.76 L325.86 212.45 L326.30 214.14 L326.74 215.82 L327.18 217.50 L327.62 219.18 L328.07 220.86 L328.51 222.53 L328.96 224.20 L329.41 225.86 L329.87 227.52 L330.32 229.18 L330.78 230.83 L331.23 232.48 L331.69 234.13 L332.16 235.77 L332.62 237.40 L333.09 239.04 L333.55 240.67 L334.02 242.29 L334.49 243.91 L334.97 245.53 L335.44 247.14 L335.92 248.75 L336.39 250.35 L336.87 251.95 L337.36 253.54 L337.84 255.13 L338.32 256.72 L338.81 258.30 L339.30 259.88 L339.79 261.45 L340.28 263.01 L340.78 264.58 L341.27 266.13 L341.77 267.69 L342.27 269.24 L342.77 270.78 L343.27 272.32 L343.78 273.85 L344.28 275.38 L344.79 276.91 L345.30 278.43 L345.81 279.94 L346.33 281.45 L346.84 282.95 L347.36 284.45 L347.87 285.95 L348.39 287.44 L348.92 288.92 L349.44 290.40 L349.96 291.88 L350.49 293.35 L351.02 294.81 L351.55 296.27 L352.08 297.73 L352.61 299.17 L353.15 300.62 L353.68 302.06 L354.22 303.49 L354.76 304.92 L355.30 306.34 L355.85 307.76 L356.39 309.18 L356.94 310.58 L357.49 311.99 L358.04 313.39 L358.59 314.78 L359.14 316.17 L359.69 317.55 L360.25 318.93 L360.81 320.30 L361.37 321.66 L361.93 323.03 L362.49 324.38 L363.05 325.73 L363.62 327.08 L364.19 328.42 L364.76 329.76 L365.33 331.09 L365.90 332.41 L366.47 333.73 L367.05 335.05 L367.63 336.36 L368.20 337.66 L368.78 338.96 L369.37 340.26 L369.95 341.55 L370.53 342.83 L371.12 344.11 L371.71 345.38 L372.30 346.65 L372.89 347.91 L373.48 349.17 L374.07 350.43 L374.67 351.67 L375.27 352.92 L375.87 354.16 L376.47 355.39 L377.07 356.62 L377.67 357.84 L378.28 359.06 L378.88 360.27 L379.49 361.48 L380.10 362.68 L380.71 363.88 L381.32 365.07 L381.94 366.26 L382.55 367.44 L383.17 368.62 L383.79 369.79 L384.41 370.96 L385.03 372.12 L385.65 373.28 L386.28 374.43 L386.90 375.58 L387.53 376.72 L388.16 377.86 L388.79 378.99 L389.42 380.12 L390.05 381.25 L390.69 382.36 L391.33 383.48 L391.96 384.59 L392.60 385.69 L393.24 386.79 L393.89 387.89 L394.53 388.98 L395.17 390.06 L395.82 391.14 L396.47 392.22 L397.12 393.29 L397.77 394.36 L398.42 395.42 L399.08 396.48 L399.73 397.53 L400.39 398.58 L401.05 399.62 L401.71 400.66 L402.37 401.69 L403.03 402.72 L403.69 403.75 L404.36 404.77 L405.03 405.78 L405.69 406.80 L406.36 407.80 L407.04 408.80 L407.71 409.80 L408.38 410.80 L409.06 411.79 L409.73 412.77 L410.41 413.75 L411.09 414.73 L411.77 415.70 L412.46 416.67 L413.14 417.63 L413.83 418.59 L414.51 419.54 L415.20 420.49 L415.89 421.44 L416.58 422.38 L417.27 423.32 L417.97 424.25 L418.66 425.18 L419.36 426.11 L420.06 427.03 L420.76 427.94 L421.46 428.86 L422.16 429.76 L422.86 430.67 L423.57 431.57 L424.27 432.46 L424.98 433.36 L425.69 434.24 L426.40 435.13 L427.11 436.01 L427.82 436.88 L428.54 437.76 L429.25 438.62 L429.97 439.49 L430.69 440.35 L431.41 441.20 L432.13 442.06 L432.85 442.91 L433.58 443.75 L434.30 444.59 L435.03 445.43 L435.76 446.26 L436.49 447.09 L437.22 447.92 L437.95 448.74 L438.68 449.56 L439.42 450.37 L440.15 451.18 L440.89 451.99 L441.63 452.79 L442.37 453.59 L443.11 454.39 L443.85 455.18 L444.60 455.97 L445.34 456.75 L446.09 457.54 L446.84 458.31 L447.59 459.09 L448.34 459.86 L449.09 460.63 L449.84 461.39 L450.60 462.15 L451.36 462.91 L452.11 463.66 L452.87 464.41 L453.63 465.16 L454.39 465.90 L455.16 466.64 L455.92 467.38 L456.68 468.11 L457.45 468.84 L458.22 469.57 L458.99 470.29 L459.76 471.01 L460.53 471.73 L461.30 472.44 L462.08 473.15 L462.85 473.86 L463.63 474.56 L464.41 475.26 L465.19 475.96 L465.97 476.66 L466.75 477.35 L467.53 478.04 L468.32 478.72 L469.10 479.40 L469.89 480.08 L470.68 480.76 L471.47 481.43 L472.26 482.10 L473.05 482.76 L473.85 483.43 L474.64 484.09 L475.44 484.74 L476.23 485.40 L477.03 486.05 L477.83 486.70 L478.63 487.34 L479.44 487.99 L480.24 488.63 L481.05 489.26 L481.85 489.90 L482.66 490.53 L483.47 491.15 L484.28 491.78 L485.09 492.40 L485.90 493.02 L486.72 493.64 L487.53 494.25 L488.35 494.86 L489.17 495.47 L489.98 496.08 L490.80 496.68 L491.63 497.28 L492.45 497.88 L493.27 498.47 L494.10 499.06 L494.92 499.65 L495.75 500.24 L496.58 500.82 L497.41 501.41 L498.24 501.98 L499.07 502.56 L499.91 503.13 L500.74 503.71 L501.58 504.27 L502.42 504.84 L503.25 505.40 L504.09 505.96 L504.93 506.52 L505.78 507.08 L506.62 507.63 L507.47 508.18 L508.31 508.73 L509.16 509.28 L510.01 509.82 L510.86 510.36 L511.71 510.90 L512.56 511.44 L513.41 511.97 L514.27 512.50 L515.12 513.03 L515.98 513.56 L516.84 514.08 L517.70 514.60 L518.56 515.12 L519.42 515.64 L520.28 516.16 L521.15 516.67 L522.01 517.18 L522.88 517.69 L523.75 518.19 L524.62 518.70 L525.49 519.20 L526.36 519.70 L527.23 520.20 L528.10 520.69 L528.98 521.18 L529.85 521.67 L530.73 522.16 L531.61 522.65 L532.49 523.13 L533.37 523.61 L534.25 524.09 L535.14 524.57 L536.02 525.05 L536.91 525.52 L537.79 525.99 L538.68 526.46 L539.57 526.93 L540.46 527.39 L541.35 527.86 L542.25 528.32 L543.14 528.78 L544.03 529.23 L544.93 529.69 L545.83 530.14 L546.73 530.59 L547.63 531.04 L548.53 531.49 L549.43 531.94 L550.33 532.38 L551.24 532.82 L552.14 533.26 L553.05 533.70 L553.96 534.13 L554.87 534.57 L555.78 535.00 L556.69 535.43 L557.60 535.86 L558.52 536.28 L559.43 536.71 L560.35 537.13 L561.26 537.55 L562.18 537.97 L563.10 538.39 L564.02 538.80 L564.95 539.21 L565.87 539.63 L566.79 540.04 L567.72 540.44 L568.64 540.85 L569.57 541.26 L570.50 541.66 L571.43 542.06 L572.36 542.46 L573.29 542.86 L574.23 543.25 L575.16 543.65 L576.10 544.04 L577.03 544.43 L577.97 544.82 L578.91 545.21 L579.85 545.59 L580.79 545.98 L581.74 546.36 L582.68 546.74 L583.62 547.12 L584.57 547.50 L585.52 547.87 L586.47 548.25 L587.42 548.62 L588.37 548.99 L589.32 549.36 L590.27 549.73 L591.22 550.10 L592.18 550.46 L593.13 550.83 L594.09 551.19 L595.05 551.55 L596.01 551.91 L596.97 552.27 L597.93 552.62 L598.89 552.98 L599.86 553.33 L600.82 553.68 L601.79 554.03 L602.76 554.38 L603.73 554.73 L604.70 555.07 L605.67 555.42 L606.64 555.76 L607.61 556.10 L608.58 556.44 L609.56 556.78 L610.54 557.12 L611.51 557.45 L612.49 557.79 L613.47 558.12 L614.45 558.45 L615.43 558.78 L616.42 559.11 L617.40 559.44 L618.39 559.76 L619.37 560.09 L620.36 560.41 L621.35 560.73 L622.34 561.05 L623.33 561.37 L624.32 561.69 L625.31 562.01 L626.31 562.32 L627.30 562.64 L628.30 562.95 L629.29 563.26 L630.29 563.57 L631.29 563.88 L632.29 564.19 L633.29 564.49 L634.30 564.80 L635.30 565.10 L636.31 565.40 L637.31 565.71 L638.32 566.01 L639.33 566.31 L640.34 566.60 L641.35 566.90 L642.36 567.19 L643.37 567.49 L644.38 567.78 L645.40 568.07 L646.41 568.36 L647.43 568.65 L648.45 568.94 L649.47 569.23 L650.49 569.51 L651.51 569.80 L652.53 570.08 L653.55 570.36 L654.58 570.65 L655.60 570.93 L656.63 571.20 L657.66 571.48 L658.69 571.76 L659.72 572.03 L660.75 572.31 L661.78 572.58 L662.81 572.86 L663.84 573.13 L664.88 573.40 L665.92 573.67 L666.95 573.93 L667.99 574.20 L669.03 574.47 L670.07 574.73 L671.11 574.99 L672.15 575.26 L673.20 575.52 L674.24 575.78 L675.29 576.04 L676.34 576.30 L677.38 576.55 L678.43 576.81 L679.48 577.07 L680.53 577.32 L681.58 577.57 L682.64 577.83 L683.69 578.08 L684.75 578.33 L685.80 578.58 L686.86 578.83 L687.92 579.07 L688.98 579.32 L690.04 579.57 L691.10 579.81 L692.16 580.05 L693.23 580.30 L694.29 580.54 L695.36 580.78 L696.42 581.02 L697.49 581.26 L698.56 581.50 L699.63 581.73 L700.70 581.97 L701.77 582.20 L702.85 582.44 L703.92 582.67 L704.99 582.90 L706.07 583.14 L707.15 583.37 L708.23 583.60 L709.31 583.83 L710.39 584.05 L711.47 584.28 L712.55 584.51 L713.63 584.73 L714.72 584.96 L715.80 585.18 L716.89 585.40 L717.98 585.62 L719.07 585.85 L720.16 586.07 L721.25 586.29 L722.34 586.50 L723.43 586.72 L724.52 586.94 L725.62 587.15 L726.71 587.37 L727.81 587.58 L728.91 587.80 L730.01 588.01 L731.11 588.22 L732.21 588.43 L733.31 588.64 L734.41 588.85 L735.52 589.06 L736.62 589.27 L737.73 589.48 L738.84 589.68 L739.94 589.89 L741.05 590.09 L742.16 590.30 L743.27 590.50 L744.39 590.70 L745.50 590.90 L746.61 591.11 L747.73 591.31 L748.84 591.51 L749.96 591.70 L751.08 591.90 L752.20 592.10 L753.32 592.30 L754.44 592.49 L755.56 592.69 L756.69 592.88 L757.81 593.07 L758.94 593.27 L760.06 593.46 L761.19 593.65 L762.32 593.84 L763.45 594.03 L764.58 594.22 L765.71 594.41 L766.84 594.60 L767.98 594.78 L769.11 594.97 L770.25 595.16 L771.38 595.34 L772.52 595.53 L773.66 595.71 L774.80 595.89 L775.94 596.08 L777.08 596.26 L778.22 596.44 L779.36 596.62 L780.51 596.80 L781.65 596.98 L782.80 597.16 L783.95 597.33 L785.10 597.51 L786.25 597.69 L787.40 597.86 L788.55 598.04 L789.70 598.21 L790.85 598.39 L792.01 598.56 L793.16 598.73 L794.32 598.90" stroke="#00ff00" stroke-width="4.3" fill="none" stroke-linejoin="round" stroke-dasharray="5.6 4.6 12.2 4.6"/>
<path d="M446.58 17.30 L446.59 17.34 L446.61 17.40 L446.64 17.49 L446.68 17.60 L446.71 17.73 L446.76 17.87 L446.81 18.03 L446.86 18.21 L446.92 18.39 L446.98 18.59 L447.04 18.81 L447.11 19.03 L447.18 19.27 L447.26 19.51 L447.34 19.77 L447.42 20.04 L447.51 20.31 L447.59 20.60 L447.68 20.90 L447.78 21.20 L447.88 21.52 L447.98 21.84 L448.08 22.17 L448.18 22.51 L448.29 22.86 L448.40 23.22 L448.52 23.59 L448.63 23.96 L448.75 24.34 L448.87 24.73 L448.99 25.12 L449.12 25.53 L449.25 25.94 L449.38 26.36 L449.51 26.78 L449.64 27.21 L449.78 27.65 L449.92 28.09 L450.06 28.54 L450.21 29.00 L450.35 29.47 L450.50 29.94 L450.65 30.41 L450.80 30.90 L450.96 31.38 L451.11 31.88 L451.27 32.38 L451.43 32.88 L451.60 33.40 L451.76 33.91 L451.93 34.44 L452.10 34.96 L452.27 35.50 L452.44 36.04 L452.61 36.58 L452.79 37.13 L452.97 37.69 L453.15 38.24 L453.33 38.81 L453.51 39.38 L453.70 39.95 L453.89 40.53 L454.08 41.12 L454.27 41.70 L454.46 42.30 L454.66 42.89 L454.85 43.50 L455.05 44.10 L455.25 44.71 L455.45 45.33 L455.66 45.95 L455.86 46.57 L456.07 47.20 L456.28 47.83 L456.49 48.47 L456.70 49.11 L456.91 49.75 L457.13 50.40 L457.35 51.05 L457.56 51.71 L457.78 52.36 L458.01 53.03 L458.23 53.69 L458.46 54.36 L458.68 55.04 L458.91 55.71 L459.14 56.40 L459.37 57.08 L459.61 57.77 L459.84 58.46 L460.08 59.15 L460.32 59.85 L460.56 60.55 L460.80 61.25 L461.04 61.96 L461.28 62.67 L461.53 63.38 L461.78 64.10 L462.03 64.82 L462.28 65.54 L462.53 66.26 L462.78 66.99 L463.04 67.72 L463.29 68.46 L463.55 69.19 L463.81 69.93 L464.07 70.67 L464.33 71.41 L464.60 72.16 L464.86 72.91 L465.13 73.66 L465.40 74.41 L465.66 75.17 L465.94 75.93 L466.21 76.69 L466.48 77.45 L466.76 78.22 L467.03 78.99 L467.31 79.76 L467.59 80.53 L467.87 81.30 L468.15 82.08 L468.44 82.86 L468.72 83.64 L469.01 84.42 L469.30 85.21 L469.59 85.99 L469.88 86.78 L470.17 87.57 L470.46 88.37 L470.76 89.16 L471.05 89.96 L471.35 90.75 L471.65 91.55 L471.95 92.36 L472.25 93.16 L472.55 93.96 L472.85 94.77 L473.16 95.58 L473.47 96.39 L473.77 97.20 L474.08 98.01 L474.39 98.82 L474.71 99.64 L475.02 100.46 L475.33 101.27 L475.65 102.09 L475.97 102.91 L476.28 103.74 L476.60 104.56 L476.92 105.38 L477.25 106.21 L477.57 107.04 L477.89 107.87 L478.22 108.70 L478.55 109.53 L478.88 110.36 L479.21 111.19 L479.54 112.03 L479.87 112.86 L480.20 113.70 L480.54 114.53 L480.87 115.37 L481.21 116.21 L481.55 117.05 L481.89 117.89 L482.23 118.73 L482.57 119.58 L482.92 120.42 L483.26 121.26 L483.61 122.11 L483.95 122.95 L484.30 123.80 L484.65 124.65 L485.00 125.50 L485.35 126.34 L485.71 127.19 L486.06 128.04 L486.42 128.89 L486.77 129.75 L487.13 130.60 L487.49 131.45 L487.85 132.30 L488.21 133.15 L488.57 134.01 L488.94 134.86 L489.30 135.72 L489.67 136.57 L490.04 137.43 L490.40 138.28 L490.77 139.14 L491.14 140.00 L491.52 140.85 L491.89 141.71 L492.26 142.57 L492.64 143.43 L493.01 144.28 L493.39 145.14 L493.77 146.00 L494.15 146.86 L494.53 147.72 L494.91 148.58 L495.30 149.44 L495.68 150.30 L496.07 151.16 L496.46 152.02 L496.84 152.88 L497.23 153.74 L497.62 154.59 L498.01 155.45 L498.41 156.31 L498.80 157.17 L499.19 158.03 L499.59 158.89 L499.99 159.75 L500.38 160.61 L500.78 161.47 L501.18 162.33 L501.59 163.19 L501.99 164.05 L502.39 164.91 L502.80 165.77 L503.20 166.63 L503.61 167.49 L504.02 168.35 L504.42 169.21 L504.83 170.06 L505.25 170.92 L505.66 171.78 L506.07 172.64 L506.49 173.50 L506.90 174.35 L507.32 175.21 L507.74 176.07 L508.15 176.92 L508.57 177.78 L508.99 178.63 L509.42 179.49 L509.84 180.34 L510.26 181.20 L510.69 182.05 L511.11 182.91 L511.54 183.76 L511.97 184.61 L512.40 185.46 L512.83 186.32 L513.26 187.17 L513.69 188.02 L514.13 188.87 L514.56 189.72 L515.00 190.57 L515.43 191.42 L515.87 192.26 L516.31 193.11 L516.75 193.96 L517.19 194.81 L517.63 195.65 L518.08 196.50 L518.52 197.34 L518.96 198.19 L519.41 199.03 L519.86 199.87 L520.30 200.72 L520.75 201.56 L521.20 202.40 L521.65 203.24 L522.11 204.08 L522.56 204.92 L523.01 205.76 L523.47 206.60 L523.93 207.43 L524.38 208.27 L524.84 209.11 L525.30 209.94 L525.76 210.78 L526.22 211.61 L526.68 212.44 L527.15 213.27 L527.61 214.10 L528.08 214.94 L528.54 215.76 L529.01 216.59 L529.48 217.42 L529.95 218.25 L530.42 219.08 L530.89 219.90 L531.36 220.73 L531.83 221.55 L532.31 222.37 L532.78 223.20 L533.26 224.02 L533.74 224.84 L534.21 225.66 L534.69 226.48 L535.17 227.29 L535.65 228.11 L536.14 228.93 L536.62 229.74 L537.10 230.56 L537.59 231.37 L538.07 232.18 L538.56 232.99 L539.05 233.80 L539.54 234.61 L540.03 235.42 L540.52 236.23 L541.01 237.04 L541.50 237.84 L541.99 238.65 L542.49 239.45 L542.98 240.25 L543.48 241.05 L543.98 241.86 L544.48 242.66 L544.98 243.45 L545.48 244.25 L545.98 245.05 L546.48 245.84 L546.98 246.64 L547.49 247.43 L547.99 248.23 L548.50 249.02 L549.00 249.81 L549.51 250.60 L550.02 251.39 L550.53 252.17 L551.04 252.96 L551.55 253.74 L552.06 254.53 L552.58 255.31 L553.09 256.09 L553.61 256.87 L554.12 257.65 L554.64 258.43 L555.16 259.21 L555.68 259.99 L556.20 260.76 L556.72 261.54 L557.24 262.31 L557.76 263.08 L558.29 263.85 L558.81 264.62 L559.34 265.39 L559.86 266.16 L560.39 266.92 L560.92 267.69 L561.45 268.45 L561.98 269.22 L562.51 269.98 L563.04 270.74 L563.57 271.50 L564.11 272.26 L564.64 273.01 L565.18 273.77 L565.72 274.53 L566.25 275.28 L566.79 276.03 L567.33 276.78 L567.87 277.53 L568.41 278.28 L568.95 279.03 L569.50 279.78 L570.04 280.52 L570.58 281.27 L571.13 282.01 L571.68 282.75 L572.22 283.49 L572.77 284.23 L573.32 284.97 L573.87 285.71 L574.42 286.44 L574.97 287.18 L575.53 287.91 L576.08 288.64 L576.63 289.37 L577.19 290.10 L577.75 290.83 L578.30 291.56 L578.86 292.29 L579.42 293.01 L579.98 293.73 L580.54 294.46 L581.10 295.18 L581.66 295.90 L582.23 296.62 L582.79 297.33 L583.36 298.05 L583.92 298.77 L584.49 299.48 L585.06 300.19 L585.62 300.90 L586.19 301.61 L586.76 302.32 L587.34 303.03 L587.91 303.74 L588.48 304.44 L589.05 305.15 L589.63 305.85 L590.20 306.55 L590.78 307.25 L591.36 307.95 L591.94 308.65 L592.52 309.34 L593.09 310.04 L593.68 310.73 L594.26 311.43 L594.84 312.12 L595.42 312.81 L596.01 313.50 L596.59 314.18 L597.18 314.87 L597.76 315.56 L598.35 316.24 L598.94 316.92 L599.53 317.60 L600.12 318.28 L600.71 318.96 L601.30 319.64 L601.89 320.32 L602.49 320.99 L603.08 321.67 L603.68 322.34 L604.27 323.01 L604.87 323.68 L605.47 324.35 L606.07 325.02 L606.67 325.68 L607.27 326.35 L607.87 327.01 L608.47 327.67 L609.07 328.34 L609.68 329.00 L610.28 329.66 L610.89 330.31 L611.49 330.97 L612.10 331.62 L612.71 332.28 L613.32 332.93 L613.93 333.58 L614.54 334.23 L615.15 334.88 L615.76 335.53 L616.37 336.17 L616.99 336.82 L617.60 337.46 L618.21 338.11 L618.83 338.75 L619.45 339.39 L620.07 340.03 L620.68 340.66 L621.30 341.30 L621.92 341.93 L622.55 342.57 L623.17 343.20 L623.79 343.83 L624.41 344.46 L625.04 345.09 L625.66 345.72 L626.29 346.34 L626.92 346.97 L627.54 347.59 L628.17 348.22 L628.80 348.84 L629.43 349.46 L630.06 350.08 L630.69 350.69 L631.33 351.31 L631.96 351.92 L632.59 352.54 L633.23 353.15 L633.86 353.76 L634.50 354.37 L635.14 354.98 L635.78 355.59 L636.42 356.20 L637.06 356.80 L637.70 357.40 L638.34 358.01 L638.98 358.61 L639.62 359.21 L640.27 359.81 L640.91 360.41 L641.56 361.00 L642.20 361.60 L642.85 362.19 L643.50 362.78 L644.15 363.38 L644.80 363.97 L645.45 364.56 L646.10 365.14 L646.75 365.73 L647.40 366.32 L648.06 366.90 L648.71 367.48 L649.37 368.07 L650.02 368.65 L650.68 369.23 L651.34 369.80 L651.99 370.38 L652.65 370.96 L653.31 371.53 L653.97 372.11 L654.63 372.68 L655.30 373.25 L655.96 373.82 L656.62 374.39 L657.29 374.96 L657.95 375.52 L658.62 376.09 L659.29 376.65 L659.95 377.21 L660.62 377.78 L661.29 378.34 L661.96 378.90 L662.63 379.45 L663.30 380.01 L663.98 380.57 L664.65 381.12 L665.32 381.67 L666.00 382.23 L666.67 382.78 L667.35 383.33 L668.03 383.88 L668.70 384.42 L669.38 384.97 L670.06 385.52 L670.74 386.06 L671.42 386.60 L672.11 387.14 L672.79 387.68 L673.47 388.22 L674.16 388.76 L674.84 389.30 L675.53 389.83 L676.21 390.37 L676.90 390.90 L677.59 391.44 L678.28 391.97 L678.97 392.50 L679.66 393.03 L680.35 393.55 L681.04 394.08 L681.73 394.61 L682.42 395.13 L683.12 395.65 L683.81 396.18 L684.51 396.70 L685.20 397.22 L685.90 397.74 L686.60 398.25 L687.30 398.77 L688.00 399.29 L688.70 399.80 L689.40 400.31 L690.10 400.83 L690.80 401.34 L691.51 401.85 L692.21 402.36 L692.91 402.86 L693.62 403.37 L694.33 403.88 L695.03 404.38 L695.74 404.88 L696.45 405.39 L697.16 405.89 L697.87 406.39 L698.58 406.89 L699.29 407.38 L700.00 407.88 L700.72 408.38 L701.43 408.87 L702.14 409.36 L702.86 409.86 L703.58 410.35 L704.29 410.84 L705.01 411.33 L705.73 411.81 L706.45 412.30 L707.17 412.79 L707.89 413.27 L708.61 413.76 L709.33 414.24 L710.05 414.72 L710.78 415.20 L711.50 415.68 L712.23 416.16 L712.95 416.64 L713.68 417.11 L714.40 417.59 L715.13 418.06 L715.86 418.53 L716.59 419.01 L717.32 419.48 L718.05 419.95 L718.78 420.42 L719.52 420.89 L720.25 421.35 L720.98 421.82 L721.72 422.28 L722.45 422.75 L723.19 423.21 L723.92 423.67 L724.66 424.13 L725.40 424.59 L726.14 425.05 L726.88 425.51 L727.62 425.96 L728.36 426.42 L729.10 426.88 L729.85 427.33 L730.59 427.78 L731.33 428.23 L732.08 428.68 L732.82 429.13 L733.57 429.58 L734.32 430.03 L735.06 430.48 L735.81 430.92 L736.56 431.37 L737.31 431.81 L738.06 432.25 L738.81 432.69 L739.57 433.14 L740.32 433.57 L741.07 434.01 L741.83 434.45 L742.58 434.89 L743.34 435.32 L744.09 435.76 L744.85 436.19 L745.61 436.63 L746.37 437.06 L747.13 437.49 L747.89 437.92 L748.65 438.35 L749.41 438.77 L750.17 439.20 L750.93 439.63 L751.70 440.05 L752.46 440.48 L753.23 440.90 L753.99 441.32 L754.76 441.74 L755.53 442.16 L756.29 442.58 L757.06 443.00 L757.83 443.42 L758.60 443.84 L759.37 444.25 L760.14 444.67 L760.92 445.08 L761.69 445.49 L762.46 445.91 L763.24 446.32 L764.01 446.73 L764.79 447.14 L765.56 447.55 L766.34 447.95 L767.12 448.36 L767.90 448.76 L768.68 449.17 L769.46 449.57 L770.24 449.98 L771.02 450.38 L771.80 450.78 L772.58 451.18 L773.37 451.58 L774.15 451.98 L774.94 452.37 L775.72 452.77 L776.51 453.17 L777.30 453.56 L778.08 453.95 L778.87 454.35 L779.66 454.74 L780.45 455.13 L781.24 455.52 L782.03 455.91 L782.83 456.30 L783.62 456.69 L784.41 457.07 L785.21 457.46 L786.00 457.85 L786.80 458.23 L787.59 458.61 L788.39 459.00 L789.19 459.38 L789.98 459.76 L790.78 460.14 L791.58 460.52 L792.38 460.89 L793.18 461.27 L793.99 461.65 L794.79 462.02 L795.59 462.40 L796.40 462.77 L797.20 463.15 L798.01 463.52 L798.81 463.89 L799.62 464.26" stroke="#800080" stroke-width="4.3" fill="none" stroke-linejoin="round" stroke-dasharray="15 10"/>
<rect x="138.50" y="3.50" width="672.00" height="672.00" fill="none" stroke="#585858" stroke-width="1"/>
<path d="M151.45 675.50 v-8.20 M138.50 662.50 h8.20 M177.29 675.50 v-5.00 M138.50 636.66 h5.00 M203.14 675.50 v-5.00 M138.50 610.81 h5.00 M228.98 675.50 v-5.00 M138.50 584.97 h5.00 M254.83 675.50 v-5.00 M138.50 559.12 h5.00 M280.67 675.50 v-8.20 M138.50 533.28 h8.20 M306.51 675.50 v-5.00 M138.50 507.44 h5.00 M332.36 675.50 v-5.00 M138.50 481.59 h5.00 M358.20 675.50 v-5.00 M138.50 455.75 h5.00 M384.05 675.50 v-5.00 M138.50 429.90 h5.00 M409.89 675.50 v-8.20 M138.50 404.06 h8.20 M435.73 675.50 v-5.00 M138.50 378.22 h5.00 M461.58 675.50 v-5.00 M138.50 352.37 h5.00 M487.42 675.50 v-5.00 M138.50 326.53 h5.00 M513.27 675.50 v-5.00 M138.50 300.68 h5.00 M539.11 675.50 v-8.20 M138.50 274.84 h8.20 M564.95 675.50 v-5.00 M138.50 249.00 h5.00 M590.80 675.50 v-5.00 M138.50 223.15 h5.00 M616.64 675.50 v-5.00 M138.50 197.31 h5.00 M642.49 675.50 v-5.00 M138.50 171.46 h5.00 M668.33 675.50 v-8.20 M138.50 145.62 h8.20 M694.17 675.50 v-5.00 M138.50 119.78 h5.00 M720.02 675.50 v-5.00 M138.50 93.93 h5.00 M745.86 675.50 v-5.00 M138.50 68.09 h5.00 M771.71 675.50 v-5.00 M138.50 42.24 h5.00 M797.55 675.50 v-8.20 M138.50 16.40 h8.20" stroke="#5a5a5a" stroke-width="0.75" fill="none"/>
<text x="131.80" y="671.20" font-size="35.0" letter-spacing="-0.90" text-anchor="end">0</text>
<text x="151.00" y="705.50" font-size="35.0" letter-spacing="-0.90" text-anchor="middle">0</text>
<text x="131.80" y="541.98" font-size="35.0" letter-spacing="-0.90" text-anchor="end">1000</text>
<text x="280.22" y="705.50" font-size="35.0" letter-spacing="-0.90" text-anchor="middle">1000</text>
<text x="131.80" y="412.76" font-size="35.0" letter-spacing="-0.90" text-anchor="end">2000</text>
<text x="409.44" y="705.50" font-size="35.0" letter-spacing="-0.90" text-anchor="middle">2000</text>
<text x="131.80" y="283.54" font-size="35.0" letter-spacing="-0.90" text-anchor="end">3000</text>
<text x="538.66" y="705.50" font-size="35.0" letter-spacing="-0.90" text-anchor="middle">3000</text>
<text x="131.80" y="154.32" font-size="35.0" letter-spacing="-0.90" text-anchor="end">4000</text>
<text x="667.88" y="705.50" font-size="35.0" letter-spacing="-0.90" text-anchor="middle">4000</text>
<text x="131.80" y="25.10" font-size="35.0" letter-spacing="-0.90" text-anchor="end">5000</text>
<text x="797.10" y="705.50" font-size="35.0" letter-spacing="-0.90" text-anchor="middle">5000</text>
<text x="473.85" y="766.1" font-size="53.5" letter-spacing="-1.10" text-anchor="middle">D(nm)</text>
<text transform="translate(39.4 340.55) rotate(-90)" font-size="53.5" letter-spacing="-1.10" text-anchor="middle">d(nm)</text>
<text x="608.7" y="82.2" font-size="53.5" letter-spacing="0.00">DP</text>
<text x="681.2" y="179.5" font-size="33.6" fill="#808080"><tspan dx="0 1.15 1.15">d=2</tspan><tspan font-style="italic" dx="0.35">a</tspan><tspan font-size="23.6" dy="5.1" dx="-0.5">DP</tspan></text>
<text x="235.5" y="618.7" font-size="34.3" letter-spacing="-0.90" fill="#0000ff">10 s</text>
<text x="391.5" y="618.6" font-size="34.3" letter-spacing="-0.90" fill="#ff0000">1 s</text>
<text x="571.8" y="605.7" font-size="34.3" letter-spacing="-0.90" fill="#ff8000">0.1 s</text>
<text x="706.3" y="553.9" font-size="34.3" letter-spacing="-0.90" fill="#00ff00">10 ms</text>
<text x="727.7" y="399.5" font-size="34.3" letter-spacing="-0.90" fill="#800080">1 ms</text>
</svg>
</body></html>
